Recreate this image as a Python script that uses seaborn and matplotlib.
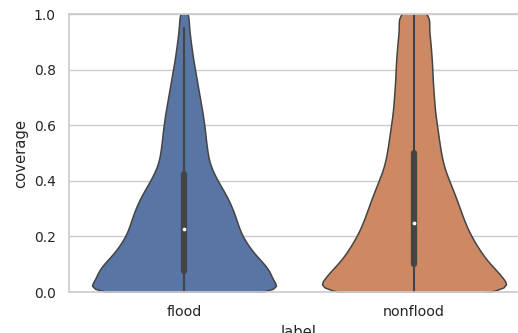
import numpy as np
import pandas as pd
import matplotlib
matplotlib.use("Agg")
import matplotlib.pyplot as plt
import seaborn as sns

categories = ["flood", "nonflood"]

# coverage values (0 to 1 in steps of 0.025) and how many samples fall on each
coverage_bins = [round(0.025 * i, 3) for i in range(41)]

flood_counts = [240, 183, 183, 178, 167, 152, 140, 130, 121, 115,
                110, 106, 100, 94, 87, 78, 70, 62, 56, 51,
                49, 47, 45, 44, 42, 40, 38, 35, 33, 30,
                28, 25, 23, 20, 18, 16, 14, 12, 11, 9, 11]

nonflood_counts = [240, 183, 179, 168, 152, 141, 132, 123, 115, 108,
                   102, 97, 92, 87, 82, 76, 71, 65, 60, 57,
                   54, 52, 50, 48, 46, 44, 42, 41, 40, 39,
                   38, 37, 37, 36, 35, 34, 33, 31, 30, 29, 40]

df = pd.concat([
    pd.DataFrame({"label": cat, "coverage": np.repeat(coverage_bins, counts)})
    for cat, counts in zip(categories, [flood_counts, nonflood_counts])
], ignore_index=True)

sns.set_theme(style="whitegrid")
plt.rcParams.update({
    "font.family": ["DejaVu Sans"],
    "xtick.labelsize": 10.3,
    "ytick.labelsize": 10.0,
    "axes.labelsize": 10.6,
})

W, H = 518, 333
fig = plt.figure(figsize=(W / 100, H / 100), dpi=100)
ax = fig.add_axes([69 / W, 41 / H, 460 / W, 278 / H])

sns.violinplot(data=df, x="label", y="coverage", hue="label", order=categories,
               bw_method=0.09, linewidth=1.1, linecolor="#444444",
               inner="box",
               inner_kws=dict(box_width=4.5, whis_width=1.5, marker="o", markersize=1.8),
               density_norm="width", ax=ax, legend=False)

ax.set_ylim(0, 1.0)
ax.set_xlim(-0.5, 1.5)

fig.savefig("out.png", dpi=100)
